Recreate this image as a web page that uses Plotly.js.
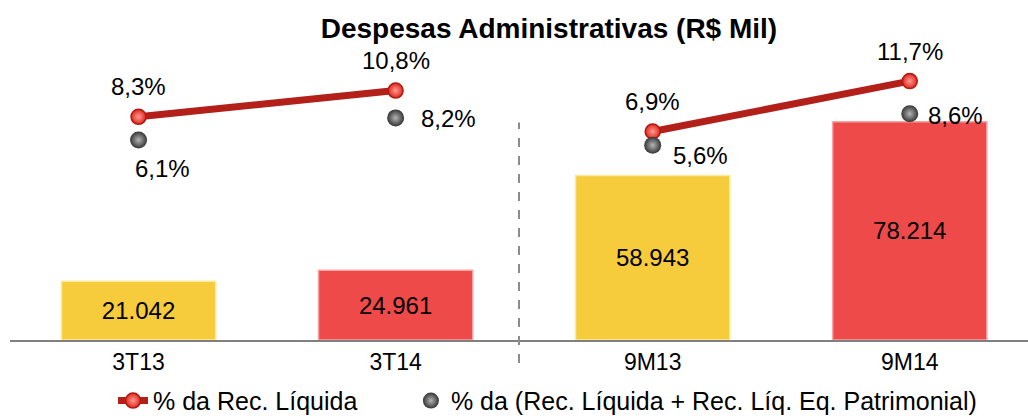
<!DOCTYPE html>
<html>
<head>
<meta charset="utf-8">
<script src="https://cdn.plot.ly/plotly-3.0.1.min.js"></script>
<style>html,body{margin:0;padding:0;background:#fff;}#chart{width:1028px;height:418px;}</style>
</head>
<body>
<div id="chart"></div>
<script>
// ---- data ----
const categories = ['3T13', '3T14', '9M13', '9M14'];
const expenses = [21042, 24961, 58943, 78214];           // R$ Mil
const pctNetRevenue = [8.3, 10.8, 6.9, 11.7];             // % da Rec. Líquida
const pctNetRevenueEq = [6.1, 8.2, 5.6, 8.6];             // % da (Rec. Líquida + Rec. Líq. Eq. Patrimonial)
const seriesNames = ['% da Rec. Líquida', '% da (Rec. Líquida + Rec. Líq. Eq. Patrimonial)'];
const chartTitle = 'Despesas Administrativas (R$ Mil)';

// ---- styling (not data) ----
const FONT = '"Liberation Sans", Arial, sans-serif';
const idx = categories.map((_, i) => i);
const barColors = ['#F7CC3C', '#EF4A4A', '#F7CC3C', '#EF4A4A'];
const barLines = ['#FCEB9E', '#F8A4A4', '#FCEB9E', '#F8A4A4'];
const redShift = [[0, 30], [0, 30], [0, 30], [0, 30]];
const greyShift = [[24, -29], [53, -1], [48, -10], [46, -2]];
const legendPad = '\u00a0\u00a0\u00a0\u00a0\u00a0\u00a0\u00a0';

const bars = {
  type: 'bar', x: idx, y: expenses, width: 0.6,
  marker: {color: barColors, line: {color: barLines, width: 1.5}},
  texttemplate: '%{y:,.0f}', textposition: 'inside', insidetextanchor: 'middle',
  textangle: 0, constraintext: 'none',
  textfont: {family: FONT, size: 24, color: '#000'},
  showlegend: false, hoverinfo: 'skip'
};

const redMarker = {size: 15, color: '#E0261E', gradient: {type: 'radial', color: '#FF9C92'},
                   line: {color: '#B01A12', width: 1.5}};
function redSeg(a, b, show) {
  return {
    type: 'scatter', mode: 'lines+markers', yaxis: 'y2',
    x: idx.slice(a, b), y: pctNetRevenue.slice(a, b),
    line: {color: '#B3201A', width: 7, shape: 'spline', smoothing: 0.8},
    marker: redMarker, name: seriesNames[0] + legendPad, showlegend: show, legendgroup: 'r',
    hoverinfo: 'skip'
  };
}
const grey = {
  type: 'scatter', mode: 'markers', yaxis: 'y2', x: idx, y: pctNetRevenueEq,
  marker: {size: 17, color: '#353535', gradient: {type: 'radial', color: '#B5B5B5'}, line: {width: 0}},
  name: seriesNames[1], hoverinfo: 'skip'
};

const fmt = v => v.toFixed(1).replace('.', ',') + '%';
const annotations = [];
pctNetRevenue.forEach((v, i) => annotations.push({
  x: i, y: v, xref: 'x', yref: 'y2', text: fmt(v), showarrow: false,
  xshift: redShift[i][0], yshift: redShift[i][1],
  font: {family: FONT, size: 24, color: '#000'}
}));
pctNetRevenueEq.forEach((v, i) => annotations.push({
  x: i, y: v, xref: 'x', yref: 'y2', text: fmt(v), showarrow: false,
  xshift: greyShift[i][0], yshift: greyShift[i][1],
  font: {family: FONT, size: 24, color: '#000'}
}));

const layout = {
  width: 1028, height: 418,
  margin: {l: 10, r: 0, t: 20, b: 78, autoexpand: false},
  paper_bgcolor: '#fff', plot_bgcolor: 'rgba(0,0,0,0)',
  separators: ',.',
  font: {family: FONT, color: '#000'},
  title: {text: '<b>' + chartTitle + '</b>', x: 0.534, xref: 'container', xanchor: 'center',
          y: 0.933, yref: 'container', yanchor: 'middle',
          font: {family: FONT, size: 28, color: '#000'}},
  xaxis: {range: [-0.5, 3.46], tickmode: 'array', tickvals: idx, ticktext: categories,
          showgrid: false, zeroline: false, showline: true, linecolor: '#808080', linewidth: 2,
          ticks: '', tickfont: {family: FONT, size: 23, color: '#000'}, fixedrange: true},
  yaxis: {range: [0, 114700], visible: false, showgrid: false, zeroline: false, fixedrange: true},
  yaxis2: {range: [-12.95, 17.52], overlaying: 'y', visible: false, showgrid: false, zeroline: false},
  shapes: [{type: 'line', xref: 'x', yref: 'paper', x0: 1.48, x1: 1.48, y0: -0.072, y1: 0.68,
            line: {color: '#8C8C8C', width: 2, dash: 'dash'}}],
  annotations: annotations,
  showlegend: true,
  legend: {orientation: 'h', x: 0.528, xanchor: 'center', y: -0.19, yanchor: 'middle',
           font: {family: FONT, size: 25, color: '#000'}, bgcolor: 'rgba(0,0,0,0)'},
  hovermode: false
};

Plotly.newPlot('chart', [bars, redSeg(0, 2, true), redSeg(2, 4, false), grey], layout,
               {staticPlot: true, displayModeBar: false});
</script>
</body>
</html>
